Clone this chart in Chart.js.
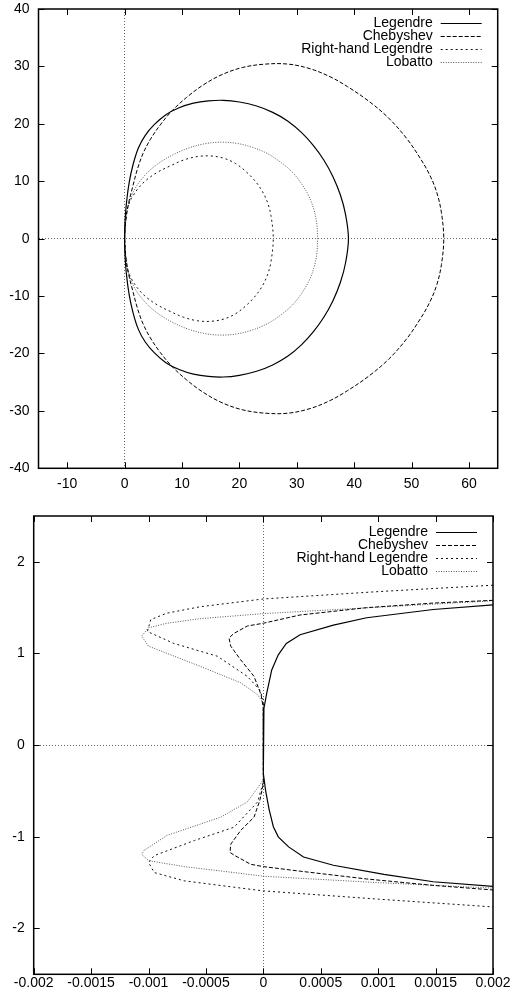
<!DOCTYPE html>
<html lang="en">
<head>
<meta charset="utf-8" />
<title>Stability regions</title>
<script src="https://cdn.jsdelivr.net/npm/chart.js"></script>
<style>
  html, body { margin: 0; padding: 0; background: #fff; }
  canvas { position: absolute; left: 0; }
</style>
</head>
<body>
<canvas id="topChart" width="514" height="500" style="top:0px"></canvas>
<canvas id="bottomChart" width="514" height="501" style="top:500px"></canvas>

<script>
// series names (same order in both panels)
const names = ["Legendre", "Chebyshev", "Right-hand Legendre", "Lobatto"];

// ---- top panel: whole loops ----
const topXTicks = [-10, 0, 10, 20, 30, 40, 50, 60];
const topYTicks = [-40, -30, -20, -10, 0, 10, 20, 30, 40];

const legX = [0, 0.05, 0.3, 0.8, 1.5, 2.4, 3.6, 5.2, 7.2, 9.5, 12, 14.6, 17.2, 20, 23, 25.8, 28.4, 30.8, 32.9, 34.7, 36.3, 37.6, 38.5, 39,
              38.5, 37.6, 36.3, 34.7, 32.9, 30.8, 28.4, 25.8, 23, 20, 17.2, 14.6, 12, 9.5, 7.2, 5.2, 3.6, 2.4, 1.5, 0.8, 0.3, 0.05, 0];
const legY = [0, 2.5, 6, 9.8, 13, 15.8, 18, 19.9, 21.6, 22.8, 23.6, 24, 24.1, 23.8, 23.1, 22, 20.5, 18.5, 16.2, 13.7, 10.8, 7.6, 4.2, 0,
              -4.2, -7.6, -10.8, -13.7, -16.2, -18.5, -20.5, -22, -23.1, -23.8, -24.1, -24, -23.6, -22.8, -21.6, -19.9, -18, -15.8, -13, -9.8, -6, -2.5, 0];

const chebX = [0, 0.2, 0.7, 1.4, 2.2, 3.2, 4.5, 6.2, 8.3, 10.8, 13.6, 16.8, 20.5, 24.5, 28.5, 32.3, 35.8, 38.8, 42.6, 46, 49.1, 51.5, 53.2, 54.4, 55.2, 55.6,
               55.2, 54.4, 53.2, 51.5, 49.1, 46, 42.6, 38.8, 35.8, 32.3, 28.5, 24.5, 20.5, 16.8, 13.6, 10.8, 8.3, 6.2, 4.5, 3.2, 2.2, 1.4, 0.7, 0.2, 0];
const chebY = [0, 3, 6.2, 9, 12, 14.8, 17.3, 19.8, 22.3, 24.6, 26.7, 28.5, 29.8, 30.4, 30.4, 29.6, 28.2, 26.5, 23.9, 21, 17.5, 14, 11, 8, 4.5, 0,
               -4.5, -8, -11, -14, -17.5, -21, -23.9, -26.5, -28.2, -29.6, -30.4, -30.4, -29.8, -28.5, -26.7, -24.6, -22.3, -19.8, -17.3, -14.8, -12, -9, -6.2, -3, 0];

const rhlX = [0, 0.15, 0.5, 1.2, 2.4, 3.9, 5.8, 8, 10.3, 12.7, 15, 17.3, 19.3, 21, 22.6, 23.9, 24.9, 25.5, 25.9,
              25.5, 24.9, 23.9, 22.6, 21, 19.3, 17.3, 15, 12.7, 10.3, 8, 5.8, 3.9, 2.4, 1.2, 0.5, 0.15, 0];
const rhlY = [0, 3, 5.3, 7, 8.8, 10.3, 11.6, 12.7, 13.7, 14.3, 14.4, 14, 13.1, 11.8, 10.2, 8.4, 6.3, 4, 0,
              -4, -6.3, -8.4, -10.2, -11.8, -13.1, -14, -14.4, -14.3, -13.7, -12.7, -11.6, -10.3, -8.8, -7, -5.3, -3, 0];

const lobX = [0, 0.3, 0.9, 1.8, 3, 4.5, 6.5, 8.8, 11.2, 13.8, 16.7, 19.5, 22.3, 24.9, 27.2, 29.2, 30.8, 32.1, 33, 33.5, 33.6,
              33.5, 33, 32.1, 30.8, 29.2, 27.2, 24.9, 22.3, 19.5, 16.7, 13.8, 11.2, 8.8, 6.5, 4.5, 3, 1.8, 0.9, 0.3, 0];
const lobY = [0, 4, 6.6, 8.7, 10.4, 12, 13.5, 14.8, 15.8, 16.5, 16.8, 16.6, 15.9, 14.8, 13.3, 11.6, 9.6, 7.4, 5, 2.5, 0,
              -2.5, -5, -7.4, -9.6, -11.6, -13.3, -14.8, -15.9, -16.6, -16.8, -16.5, -15.8, -14.8, -13.5, -12, -10.4, -8.7, -6.6, -4, 0];

// ---- bottom panel: close-up near the origin ----
const botXTicks = [-0.002, -0.0015, -0.001, -0.0005, 0, 0.0005, 0.001, 0.0015, 0.002];
const botYTicks = [-2, -1, 0, 1, 2];

const legZX = [0.002, 0.00148, 0.0009, 0.00061, 0.00032, 0.0002, 0.00013, 0.000073, 0.00003, 0.000005, 0,
               0, 0.00002, 0.00005, 0.000087, 0.00013, 0.00022, 0.00035, 0.00061, 0.00105, 0.00148, 0.002];
const legZY = [1.53, 1.48, 1.39, 1.31, 1.205, 1.11, 0.985, 0.82, 0.57, 0.4, 0.3,
               -0.31, -0.5, -0.7, -0.89, -1.0, -1.11, -1.22, -1.31, -1.41, -1.49, -1.54];

const chebZX = [0.002, 0.00148, 0.0009, 0.00032, 0, -0.000139, -0.000255, -0.000299, -0.000284, -0.000197, -0.000081, -0.00002, 0,
                0, -0.00003, -0.000081, -0.000197, -0.000284, -0.00029, -0.000255, -0.00011, 0, 0.00032, 0.0009, 0.00148, 0.002];
const chebZY = [1.58, 1.55, 1.5, 1.42, 1.33, 1.3, 1.22, 1.17, 1.08, 0.93, 0.75, 0.55, 0.4,
                -0.42, -0.6, -0.785, -0.93, -1.08, -1.17, -1.2, -1.3, -1.325, -1.375, -1.46, -1.53, -1.58];

const rhlZX = [0.002, 0.0015, 0.001, 0.0005, 0, -0.00055, -0.00084, -0.00098, -0.00101, -0.00078, -0.0004, -0.000139, -0.00003, 0,
               0, -0.00005, -0.000255, -0.0006, -0.00095, -0.001, -0.00095, -0.00069, -0.000255, 0, 0.001, 0.002];
const rhlZY = [1.745, 1.71, 1.675, 1.635, 1.595, 1.51, 1.44, 1.37, 1.24, 1.11, 0.97, 0.75, 0.6, 0.49,
               -0.4, -0.62, -0.895, -1.04, -1.205, -1.28, -1.39, -1.48, -1.55, -1.59, -1.68, -1.765];

const lobZX = [0.002, 0.0015, 0.001, 0.0005, 0, -0.00055, -0.00084, -0.001, -0.00106, -0.001, -0.00055, -0.000197, -0.00005, 0,
               0, -0.00014, -0.00037, -0.00084, -0.00104, -0.00106, -0.001, -0.00069, -0.000255, 0, 0.001, 0.002];
const lobZY = [1.575, 1.54, 1.505, 1.47, 1.435, 1.38, 1.33, 1.28, 1.19, 1.08, 0.86, 0.68, 0.55, 0.46,
               -0.38, -0.62, -0.785, -0.985, -1.15, -1.19, -1.26, -1.325, -1.39, -1.43, -1.5, -1.56];

const FONT = '14px "Liberation Sans", Arial, sans-serif';
Chart.defaults.font.family = '"Liberation Sans", Arial, sans-serif';
Chart.defaults.font.size = 14;
Chart.defaults.color = '#000';

// line styles, one per series
const styles = [
  { borderColor: '#000', borderWidth: 1.2, borderDash: [] },
  { borderColor: '#000', borderWidth: 1, borderDash: [4, 2] },
  { borderColor: '#111', borderWidth: 1, borderDash: [2, 3] },
  { borderColor: '#555', borderWidth: 1, borderDash: [1, 1.5] }
];

function pts(xs, ys) {
  return xs.map((v, i) => ({ x: v, y: ys[i] }));
}

// gnuplot style frame with inward ticks on all four sides
const frameTicks = {
  id: 'frameTicks',
  afterDatasetsDraw(chart) {
    const { ctx, chartArea: a, scales: { x, y } } = chart;
    ctx.save();
    ctx.strokeStyle = '#000';
    ctx.lineWidth = 1;
    ctx.beginPath();
    x.ticks.forEach(t => {
      const px = Math.round(x.getPixelForValue(t.value)) + 0.5;
      ctx.moveTo(px, a.bottom); ctx.lineTo(px, a.bottom - 6);
      ctx.moveTo(px, a.top); ctx.lineTo(px, a.top + 6);
    });
    y.ticks.forEach(t => {
      const py = Math.round(y.getPixelForValue(t.value)) + 0.5;
      ctx.moveTo(a.left, py); ctx.lineTo(a.left + 6, py);
      ctx.moveTo(a.right, py); ctx.lineTo(a.right - 6, py);
    });
    ctx.stroke();
    ctx.lineWidth = 1.5;
    ctx.strokeRect(a.left, a.top, a.width, a.height);
    ctx.restore();
  }
};

// key in the top right corner: label then line sample
const keyBox = {
  id: 'keyBox',
  afterDatasetsDraw(chart, args, opts) {
    const { ctx, chartArea: a } = chart;
    ctx.save();
    ctx.font = FONT;
    ctx.textAlign = 'right';
    ctx.textBaseline = 'middle';
    chart.data.datasets.forEach((ds, i) => {
      const yy = Math.round(a.top + opts.top + i * 13) + 0.5;
      ctx.fillStyle = '#000';
      ctx.fillText(ds.label, a.right - 65, yy);
      ctx.strokeStyle = ds.borderColor;
      ctx.lineWidth = ds.borderWidth;
      ctx.setLineDash(ds.borderDash);
      ctx.beginPath();
      ctx.moveTo(a.right - 57, yy);
      ctx.lineTo(a.right - 16, yy);
      ctx.stroke();
    });
    ctx.restore();
  }
};

// fixed axis box sizes, no extra room for overhanging labels
function noPad(s) {
  s.paddingTop = 0; s.paddingBottom = 0;
  s.paddingLeft = 0; s.paddingRight = 0;
}

function makeChart(id, series, o) {
  const datasets = series.map((s, i) => Object.assign({
    label: names[i],
    data: pts(s[0], s[1]),
    showLine: true,
    pointRadius: 0,
    tension: o.tension,
    fill: false
  }, styles[i]));

  const zeroGrid = {
    color: c => (c.tick && c.tick.value === 0) ? '#666' : 'rgba(0,0,0,0)',
    lineWidth: 1,
    drawTicks: false
  };

  return new Chart(document.getElementById(id), {
    type: 'scatter',
    data: { datasets },
    options: {
      responsive: false,
      animation: false,
      devicePixelRatio: 1,
      layout: { padding: o.padding },
      plugins: {
        legend: { display: false },
        tooltip: { enabled: false },
        keyBox: { top: o.keyTop }
      },
      scales: {
        x: {
          type: 'linear',
          min: o.xMin, max: o.xMax,
          grid: zeroGrid,
          border: { display: false, dash: [1, 2] },
          afterBuildTicks: s => { s.ticks = o.xTicks.map(v => ({ value: v })); },
          afterFit: s => { s.height = o.xHeight; noPad(s); },
          ticks: { autoSkip: false, maxRotation: 0, padding: o.xPad, callback: v => String(v) }
        },
        y: {
          type: 'linear',
          min: o.yMin, max: o.yMax,
          grid: zeroGrid,
          border: { display: false, dash: [1, 2] },
          afterBuildTicks: s => { s.ticks = o.yTicks.map(v => ({ value: v })); },
          afterFit: s => { s.width = o.yWidth; noPad(s); },
          ticks: { autoSkip: false, padding: 9, callback: v => String(v) }
        }
      }
    },
    plugins: [frameTicks, keyBox]
  });
}

makeChart('topChart',
  [[legX, legY], [chebX, chebY], [rhlX, rhlY], [lobX, lobY]],
  {
    xMin: -15, xMax: 65, yMin: -40, yMax: 40,
    xTicks: topXTicks, yTicks: topYTicks,
    padding: { top: 9, right: 16.3, left: 0, bottom: 0 },
    yWidth: 38.5, xHeight: 31.7, xPad: 7, keyTop: 14.3, tension: 0.35
  });

makeChart('bottomChart',
  [[legZX, legZY], [chebZX, chebZY], [rhlZX, rhlZY], [lobZX, lobZY]],
  {
    xMin: -0.002, xMax: 0.002, yMin: -2.5, yMax: 2.5,
    xTicks: botXTicks, yTicks: botYTicks,
    padding: { top: 16, right: 21, left: 0, bottom: 0 },
    yWidth: 33.7, xHeight: 26.7, xPad: 0, keyTop: 16.3, tension: 0
  });
</script>
</body>
</html>
